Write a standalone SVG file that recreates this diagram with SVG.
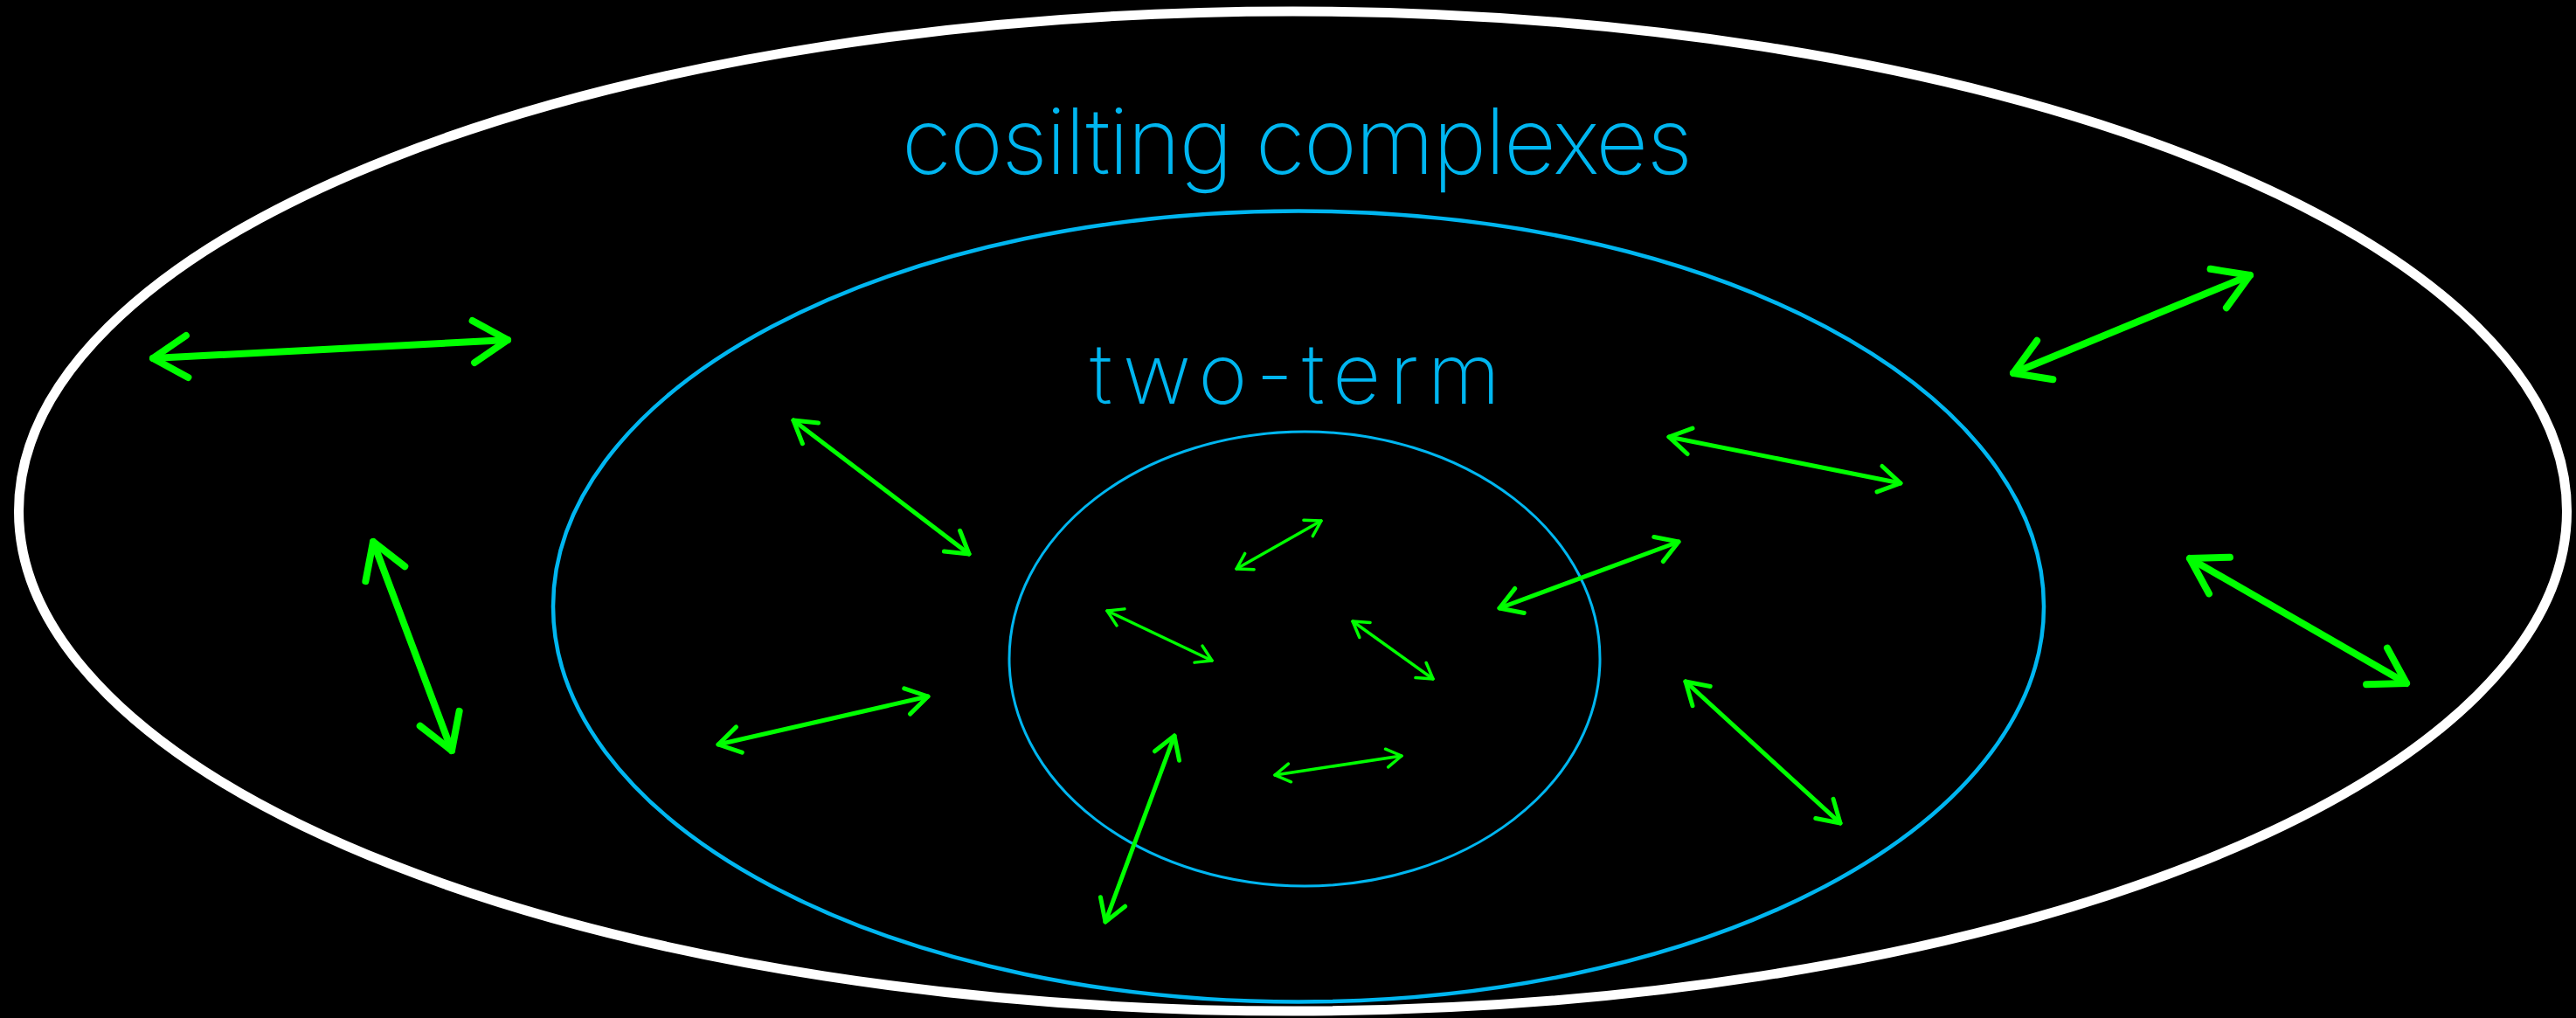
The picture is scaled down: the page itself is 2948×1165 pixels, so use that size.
<svg xmlns="http://www.w3.org/2000/svg" width="2948" height="1165" viewBox="0 0 2948 1165">
  <style>
    .ring { fill: none; }
    .outer { stroke: #ffffff; stroke-width: 11; }
    .mid { stroke: #00b6f0; stroke-width: 4.5; }
    .inner { stroke: #00b6f0; stroke-width: 3; }
    .label { fill: #00b6f0; font-family: Inter, "Open Sans", "DejaVu Sans", sans-serif; font-weight: 200; }
    .arr { stroke: #00ff00; stroke-linecap: round; fill: none; marker-start: url(#head); marker-end: url(#head); }
    .a-outer { stroke-width: 8; }
    .a-mid { stroke-width: 5; }
    .a-inner { stroke-width: 3.5; }
  </style>
  <defs>
    <!-- open chevron head, sized in stroke-width units -->
    <marker id="head" markerUnits="strokeWidth" orient="auto-start-reverse" markerWidth="1" markerHeight="1" overflow="visible">
      <path d="M -4.9 -3 L 0 0 L -4.9 3" fill="none" stroke="#00ff00" stroke-width="1" stroke-linecap="round" stroke-linejoin="round"/>
    </marker>
  </defs>
  <rect width="2948" height="1165" fill="#000000"/>

  <g id="cosilting">
    <ellipse class="ring outer" cx="1479.5" cy="585" rx="1458" ry="572"/>
    <text class="label" x="1032" y="199" font-size="104" textLength="905" lengthAdjust="spacing">cosilting complexes</text>
  </g>

  <g id="two-term">
    <ellipse class="ring mid" cx="1486" cy="694" rx="853" ry="452.5"/>
    <text class="label" x="1247" y="462" font-size="96" textLength="470" lengthAdjust="spacing">two-term</text>
  </g>

  <g id="core">
    <ellipse class="ring inner" cx="1493" cy="754" rx="338" ry="260"/>
  </g>

  <g id="connectors">
    <!-- outer band -->
    <line class="arr a-outer" x1="175" y1="410" x2="581" y2="389"/>
    <line class="arr a-outer" x1="427" y1="620" x2="517" y2="859"/>
    <line class="arr a-outer" x1="2304" y1="427" x2="2575" y2="315"/>
    <line class="arr a-outer" x1="2506" y1="639" x2="2754" y2="782"/>
    <!-- middle band -->
    <line class="arr a-mid" x1="908" y1="481" x2="1109" y2="634"/>
    <line class="arr a-mid" x1="822" y1="852" x2="1062" y2="797"/>
    <line class="arr a-mid" x1="1910" y1="500" x2="2175" y2="553"/>
    <line class="arr a-mid" x1="1716" y1="696" x2="1921" y2="620"/>
    <line class="arr a-mid" x1="1929" y1="780" x2="2106" y2="942"/>
    <line class="arr a-mid" x1="1344" y1="842" x2="1265" y2="1055"/>
    <!-- inner region -->
    <line class="arr a-inner" x1="1415" y1="651" x2="1512" y2="596"/>
    <line class="arr a-inner" x1="1267" y1="699" x2="1387" y2="756"/>
    <line class="arr a-inner" x1="1548" y1="711" x2="1640" y2="777"/>
    <line class="arr a-inner" x1="1459" y1="887" x2="1604" y2="865"/>
  </g>
</svg>
